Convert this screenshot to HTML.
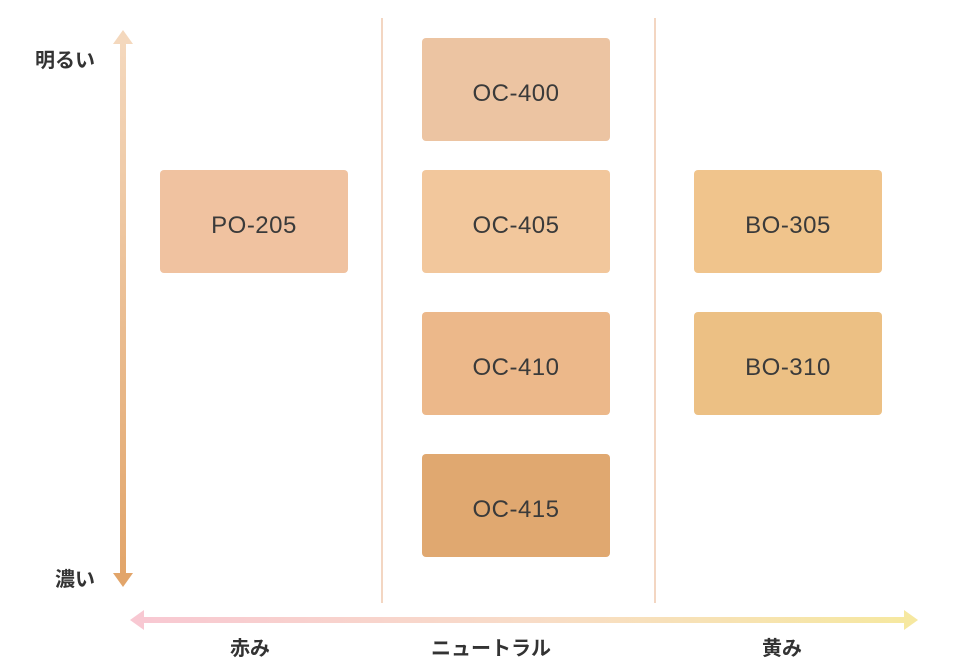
<!DOCTYPE html>
<html><head><meta charset="utf-8"><style>
html,body{margin:0;padding:0;background:#fff;}
body{width:960px;height:671px;position:relative;overflow:hidden;font-family:"Liberation Sans","Noto Sans CJK JP",sans-serif;}
.b{position:absolute;width:188px;height:103px;box-sizing:border-box;padding-top:8px;border-radius:4px;display:flex;align-items:center;justify-content:center;font-size:24px;letter-spacing:0.5px;color:#3a3a3a;}
.l{position:absolute;font-size:20px;font-weight:bold;color:#333;white-space:nowrap;}
.d{position:absolute;top:18px;width:1.5px;height:585px;background:#f3d6c2;}
</style></head><body>
<svg width="960" height="671" style="position:absolute;left:0;top:0">
<defs>
<linearGradient id="v" x1="0" y1="0" x2="0" y2="1"><stop offset="0" stop-color="#f4d8bd"/><stop offset="1" stop-color="#e2a56a"/></linearGradient>
<linearGradient id="h" x1="0" y1="0" x2="1" y2="0"><stop offset="0" stop-color="#f8c8d2"/><stop offset="0.5" stop-color="#f8dcc8"/><stop offset="1" stop-color="#f6e8a0"/></linearGradient>
</defs>
<rect x="120" y="42" width="6" height="532" fill="url(#v)"/>
<polygon points="113,44 123,30 133,44" fill="#f4d8bd"/>
<polygon points="113,573 123,587 133,573" fill="#e2a56a"/>
<rect x="142" y="617" width="764" height="6" fill="url(#h)"/>
<polygon points="144,610 130,620 144,630" fill="#f8c8d2"/>
<polygon points="904,610 918,620 904,630" fill="#f6e8a0"/>
</svg>
<div class="d" style="left:381px"></div>
<div class="d" style="left:654px"></div>
<div class="l" style="left:35px;top:44px">明るい</div>
<div class="l" style="left:55px;top:563px">濃い</div>
<div class="l" style="left:230px;top:632px">赤み</div>
<div class="l" style="left:431px;top:632px">ニュートラル</div>
<div class="l" style="left:762px;top:632px">黄み</div>
<div class="b" style="left:160px;top:170px;background:#f0c2a0">PO-205</div>
<div class="b" style="left:422px;top:38px;background:#ecc4a2">OC-400</div>
<div class="b" style="left:422px;top:170px;background:#f2c79c">OC-405</div>
<div class="b" style="left:422px;top:312px;background:#ecb88a">OC-410</div>
<div class="b" style="left:422px;top:454px;background:#e0a870">OC-415</div>
<div class="b" style="left:694px;top:170px;background:#f0c48c">BO-305</div>
<div class="b" style="left:694px;top:312px;background:#ecc084">BO-310</div>
</body></html>
